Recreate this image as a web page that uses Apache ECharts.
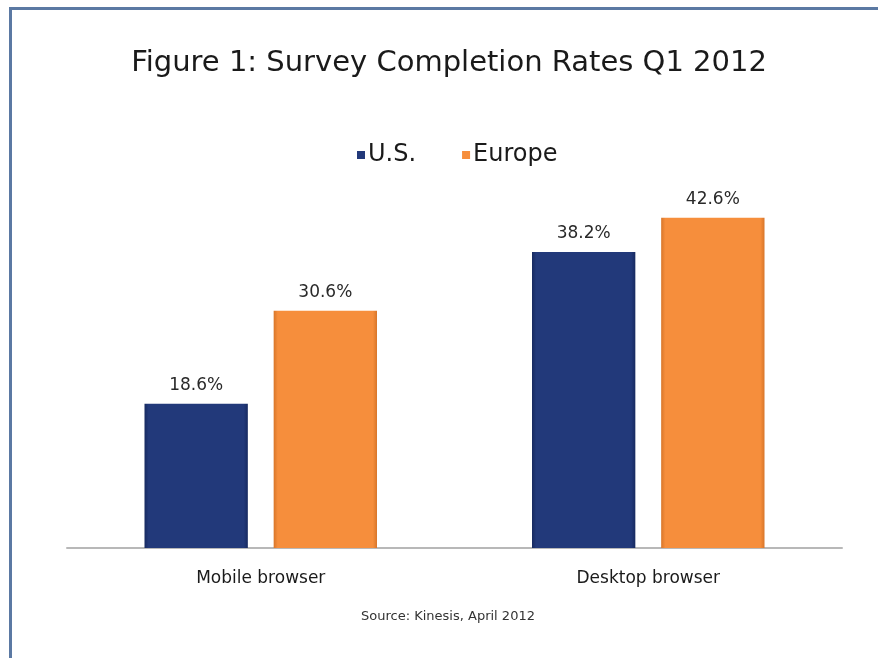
<!DOCTYPE html>
<html>
<head>
<meta charset="utf-8">
<script src="https://cdn.jsdelivr.net/npm/echarts@6/dist/echarts.min.js"></script>
<style>html,body{margin:0;padding:0;background:#fff}#c{width:878px;height:658px}</style>
</head>
<body>
<div id="c"></div>
<script>
const categories = ['Mobile browser', 'Desktop browser'];
const usValues = [18.6, 38.2];
const europeValues = [30.6, 42.6];
const seriesNames = ['U.S.', 'Europe'];
const titleText = 'Figure 1: Survey Completion Rates Q1 2012';
const sourceText = 'Source: Kinesis, April 2012';

const FONT = "'DejaVu Sans', sans-serif";
const chart = echarts.init(document.getElementById('c'));

function barColor(c1, c2) {
  return new echarts.graphic.LinearGradient(0, 0, 1, 0, [
    {offset: 0, color: c2}, {offset: 0.04, color: c1}, {offset: 0.96, color: c1}, {offset: 1, color: c2}
  ]);
}

chart.setOption({
  backgroundColor: '#fff',
  animation: false,
  legend: {
    data: seriesNames,
    top: 138, left: 352,
    itemWidth: 8, itemHeight: 8, itemGap: 46,
    icon: 'rect',
    textStyle: {fontFamily: FONT, fontSize: 24, color: '#1a1a1a', padding: [0, 0, 0, -2]}
  },
  grid: {left: 67, right: 36, top: 160.5, bottom: 110, containLabel: false},
  xAxis: {
    type: 'category', data: categories,
    axisLine: {lineStyle: {color: '#b8b8b8', width: 2}},
    axisTick: {show: false},
    axisLabel: {fontFamily: FONT, fontSize: 17, color: '#1a1a1a', margin: 22}
  },
  yAxis: {type: 'value', min: 0, max: 50, show: false, splitLine: {show: false}},
  series: [{
    name: seriesNames[0], type: 'bar', data: usValues,
    barGap: '25%', barCategoryGap: '40%',
    itemStyle: {color: barColor('#22397a', '#172a60')},
    label: {show: true, position: 'top', distance: 10, formatter: p => p.value.toFixed(1) + '%',
      fontFamily: FONT, fontSize: 17, color: '#2a2a2a'}
  }, {
    name: seriesNames[1], type: 'bar', data: europeValues,
    itemStyle: {color: barColor('#f68e3c', '#d8762a')},
    label: {show: true, position: 'top', distance: 10, formatter: p => p.value.toFixed(1) + '%',
      fontFamily: FONT, fontSize: 17, color: '#2a2a2a'}
  }],
  graphic: [{
    type: 'polyline', silent: true,
    shape: {points: [[10.5, 700], [10.5, 8.5], [900, 8.5]]},
    style: {stroke: '#5b79a3', lineWidth: 3, fill: null}
  }, {
    type: 'text', silent: true, x: 449, y: 63,
    style: {text: titleText, fontFamily: FONT, fontSize: 29, fill: '#1a1a1a', align: 'center', verticalAlign: 'middle'}
  }, {
    type: 'text', silent: true, x: 448, y: 617,
    style: {text: sourceText, fontFamily: FONT, fontSize: 13, fill: '#333', align: 'center', verticalAlign: 'middle'}
  }]
});
</script>
</body>
</html>
